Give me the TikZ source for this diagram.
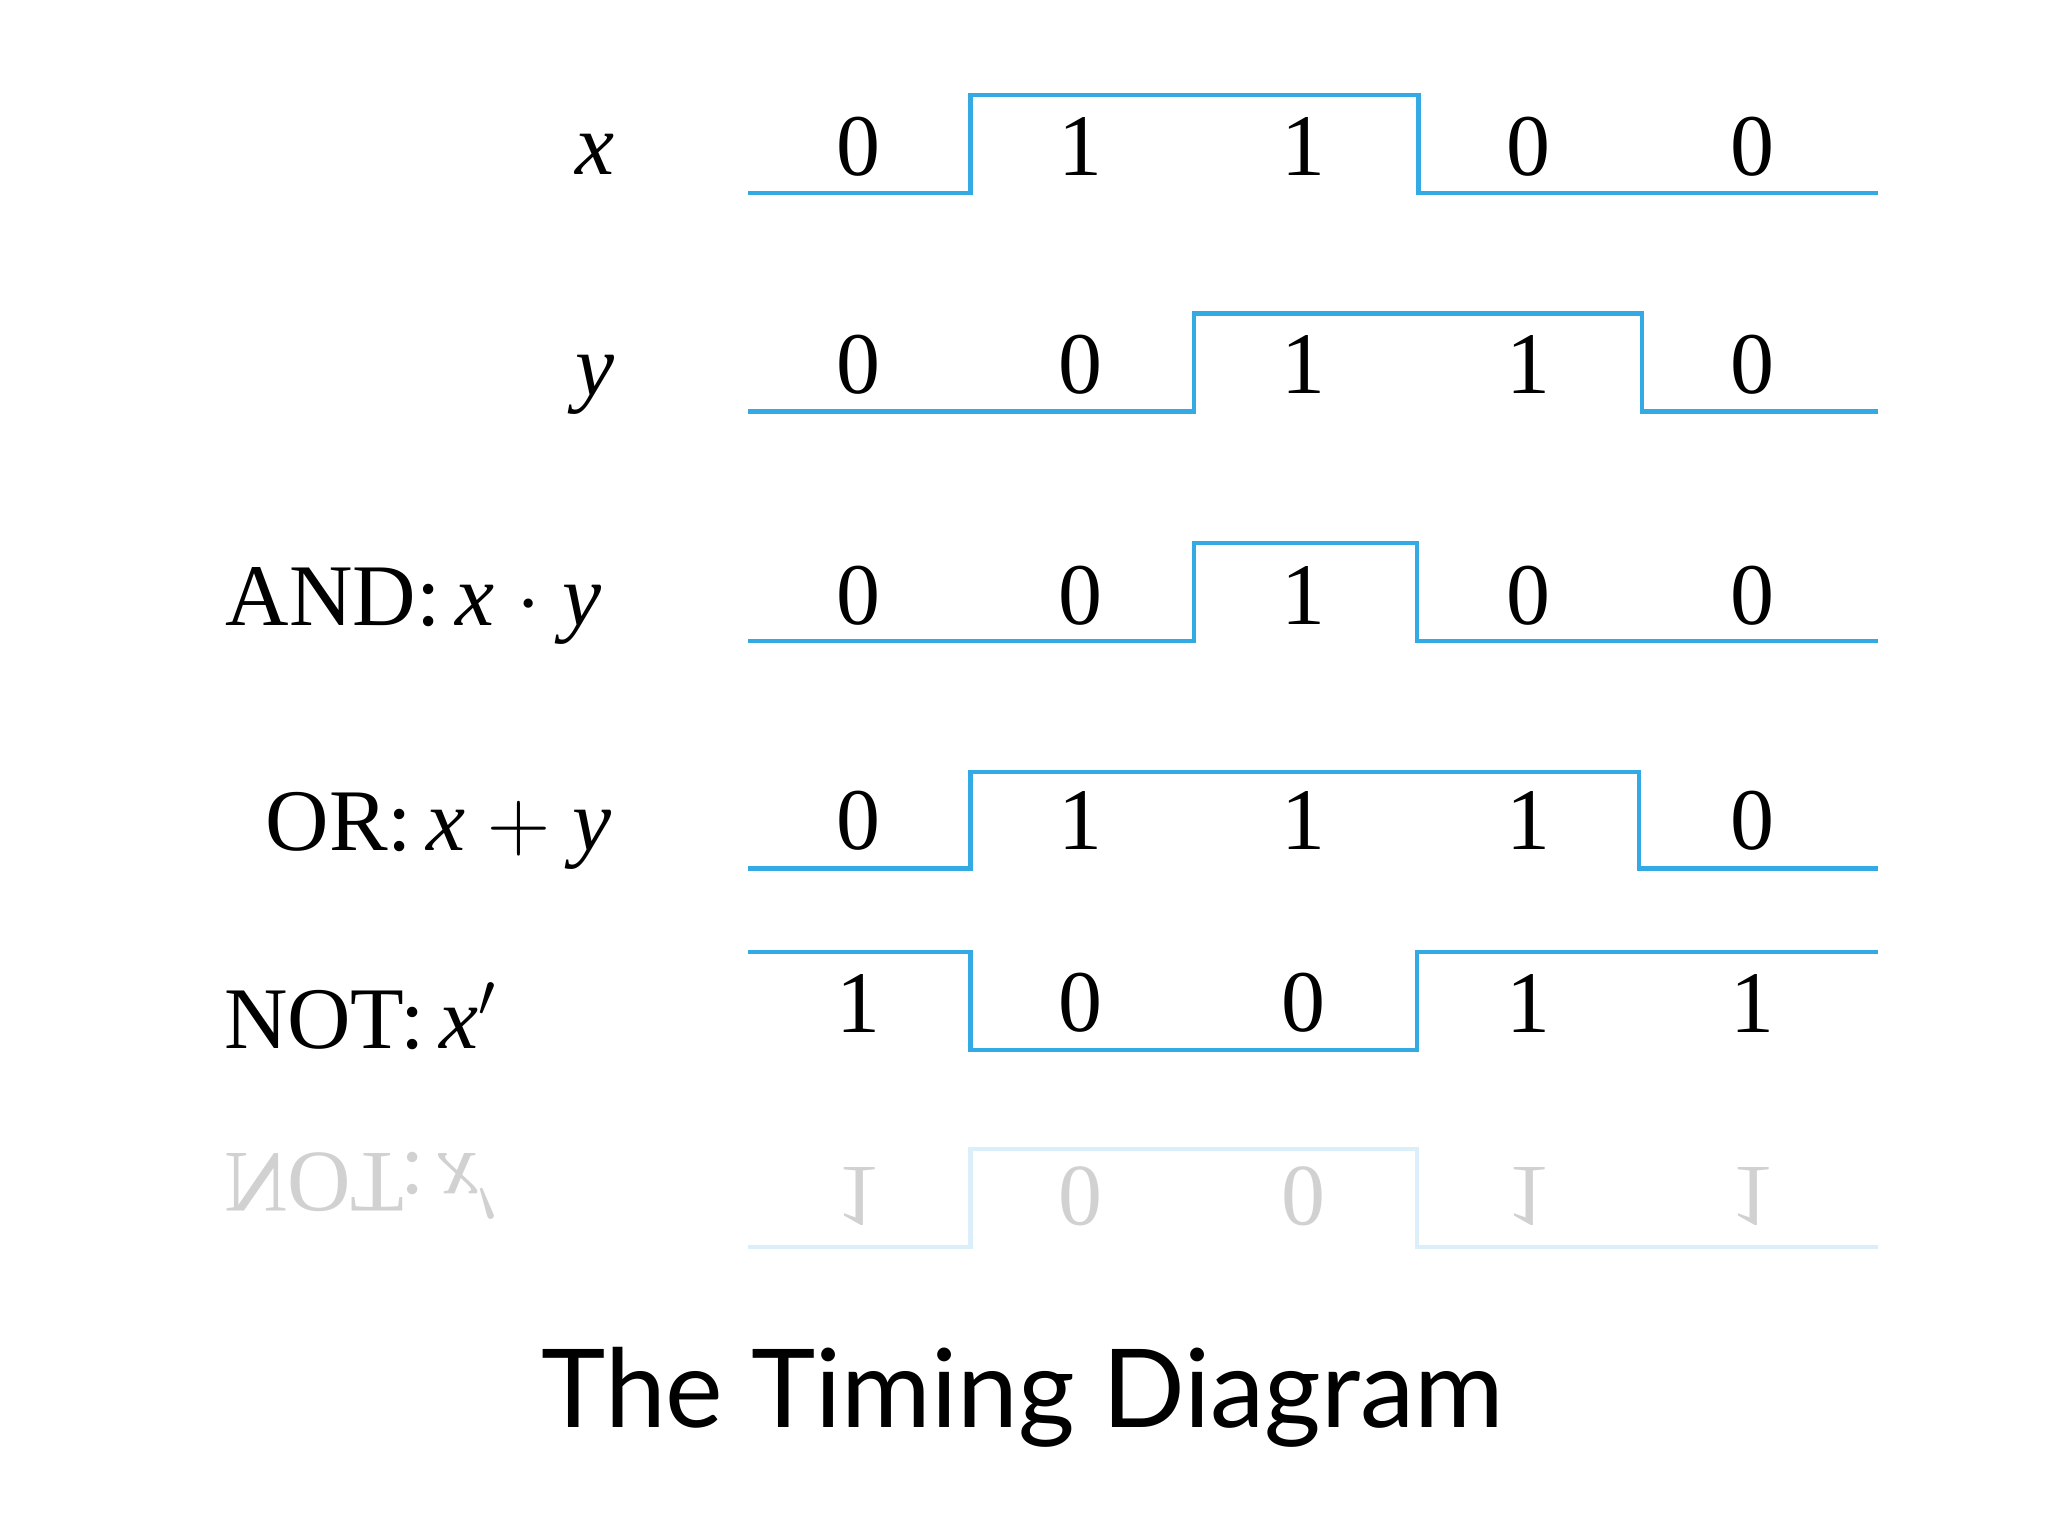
\documentclass[tikz,border=0pt]{standalone}
\usepackage{fontspec}
\setmainfont{Liberation Serif}
\newfontfamily\titlefont{Lato}
\definecolor{wave}{RGB}{52,170,228}
\newcommand{\vx}{\textit{x}}
\newcommand{\vy}{\textit{y}}
\begin{document}
\begin{tikzpicture}[x=0.01306cm,y=-0.01306cm,
  wv/.style={draw=wave,line width=1.2pt},
  dg/.style={font=\fontsize{25}{30}\selectfont,anchor=center},
  lb/.style={font=\fontsize{25}{30}\selectfont}]
\useasboundingbox[fill=white] (0,0) rectangle (1568,1176);
% x
\node[lb,anchor=east] (lx) at (480,118) {\vx};
\draw[wv] (573,148) -- (743,148) -- (743,73) -- (1086,73) -- (1086,148) -- (1438,148);
\foreach \v/\p in {0/657,1/827,1/998,0/1170,0/1342} \node[dg] at (\p,112) {\v};
% y
\node[lb,anchor=east] (ly) at (480,295) {\vy};
\draw[wv] (573,315) -- (914,315) -- (914,240) -- (1257,240) -- (1257,315) -- (1438,315);
\foreach \v/\p in {0/657,0/827,1/998,1/1170,0/1342} \node[dg] at (\p,279) {\v};
% AND
\node[lb,anchor=east] (land) at (470,464) {AND:\,\vx\ $\cdot$ \vy};
\draw[wv] (573,491) -- (914,491) -- (914,416) -- (1085,416) -- (1085,491) -- (1438,491);
\foreach \v/\p in {0/657,0/827,1/998,0/1170,0/1342} \node[dg] at (\p,456) {\v};
% OR
\node[lb,anchor=east] (lor) at (478,636) {OR:\,\vx\ $+$ \vy};
\draw[wv] (573,665) -- (743,665) -- (743,591) -- (1255,591) -- (1255,665) -- (1438,665);
\foreach \v/\p in {0/657,1/827,1/998,1/1170,0/1342} \node[dg] at (\p,628) {\v};
% NOT
\node[lb,anchor=west] (lnot) at (162,778) {NOT:\,\vx$'$};
\draw[wv] (573,729) -- (743,729) -- (743,804) -- (1085,804) -- (1085,729) -- (1438,729);
\foreach \v/\p in {1/657,0/827,0/998,1/1170,1/1342} \node[dg] at (\p,768) {\v};
% reflection
\begin{scope}[opacity=0.18]
\node[lb,anchor=west,yscale=-1] (rnot) at (162,908) {NOT:\,\vx$'$};
\draw[wv] (573,955) -- (743,955) -- (743,880) -- (1085,880) -- (1085,955) -- (1438,955);
\foreach \v/\p in {1/657,0/827,0/998,1/1170,1/1342} \node[dg,yscale=-1] at (\p,916) {\v};
\end{scope}
\node[font=\titlefont\fontsize{31}{36}\selectfont] (title) at (783,1070) {The Timing Diagram};
\end{tikzpicture}
\end{document}
